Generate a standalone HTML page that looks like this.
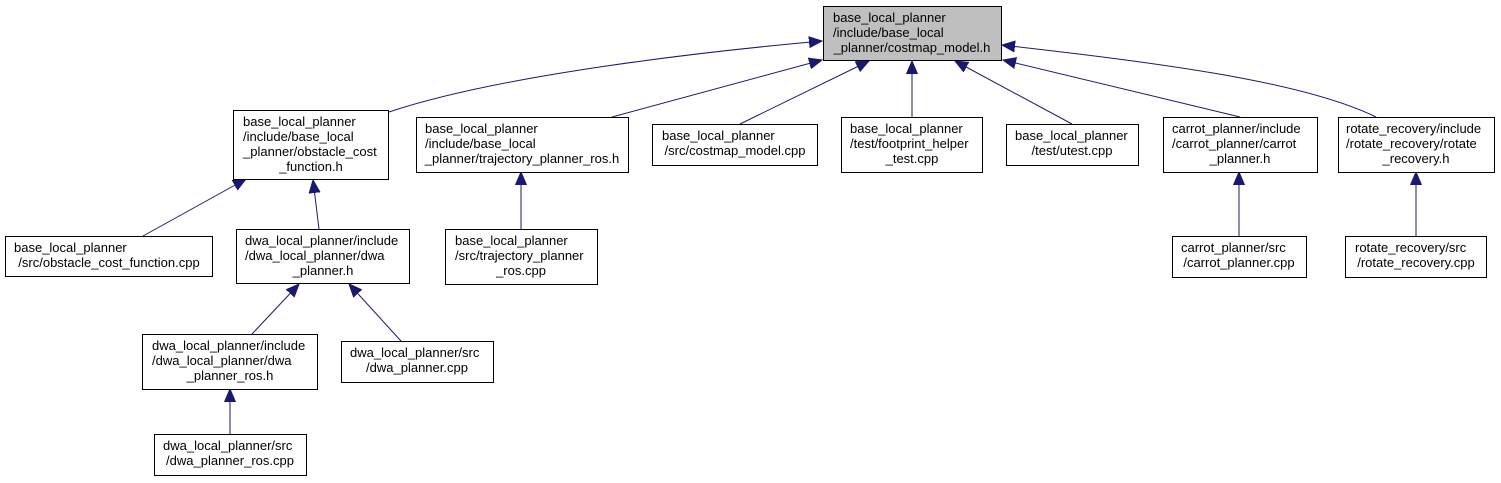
<!DOCTYPE html>
<html><head><meta charset="utf-8"><style>
html,body{margin:0;padding:0;background:#fff;}
svg{display:block;}
text{font-family:"Liberation Sans",sans-serif;font-size:13px;fill:#000;}
</style></head><body>
<svg width="1501" height="483" viewBox="0 0 1501 483" xmlns="http://www.w3.org/2000/svg">
<defs><marker id="a" markerWidth="14" markerHeight="12" refX="13" refY="6" orient="auto" markerUnits="userSpaceOnUse"><path d="M0,0.5 L13,6 L0,11.5 Z" fill="#191970" stroke="#191970"/></marker></defs>
<g stroke="#191970" stroke-width="1" fill="none" marker-end="url(#a)">
<path d="M389,112 C500,75 700,52 822,41"/>
<path d="M612,117 L822,60"/>
<path d="M740,124 L869,61"/>
<path d="M912,117 L912,61"/>
<path d="M1072,124 L955,61"/>
<path d="M1240,117 L1003,60"/>
<path d="M1376,117 C1300,80 1150,62 1002,45"/>
<path d="M143,236 L246,179"/>
<path d="M319,229 L313,180"/>
<path d="M521,229 L521,172"/>
<path d="M1239,236 L1239,172"/>
<path d="M1416,236 L1416,172"/>
<path d="M252,334 L299,284"/>
<path d="M401,341 L349,284"/>
<path d="M230,434 L230,389"/>
</g>
<g stroke="#000" stroke-width="1">
<rect x="823.5" y="6.5" width="178" height="54" fill="#bfbfbf"/>
<rect x="233.5" y="110.5" width="155" height="69" fill="#fff"/>
<rect x="416.5" y="117.5" width="212" height="55" fill="#fff"/>
<rect x="652.5" y="124.5" width="165" height="41" fill="#fff"/>
<rect x="841.5" y="117.5" width="141" height="55" fill="#fff"/>
<rect x="1006.5" y="124.5" width="132" height="41" fill="#fff"/>
<rect x="1163.5" y="117.5" width="154" height="55" fill="#fff"/>
<rect x="1338.5" y="117.5" width="156" height="55" fill="#fff"/>
<rect x="5.5" y="236.5" width="207" height="40" fill="#fff"/>
<rect x="236.5" y="229.5" width="173" height="54" fill="#fff"/>
<rect x="445.5" y="229.5" width="152" height="55" fill="#fff"/>
<rect x="1172.5" y="236.5" width="134" height="41" fill="#fff"/>
<rect x="1345.5" y="236.5" width="141" height="41" fill="#fff"/>
<rect x="142.5" y="334.5" width="175" height="55" fill="#fff"/>
<rect x="341.5" y="341.5" width="152" height="41" fill="#fff"/>
<rect x="154.5" y="434.5" width="152" height="41" fill="#fff"/>
</g>
<text x="833" y="22">base_local_planner</text>
<text x="833" y="37">/include/base_local</text>
<text x="912" y="52" text-anchor="middle">_planner/costmap_model.h</text>

<text x="243" y="126">base_local_planner</text>
<text x="243" y="141">/include/base_local</text>
<text x="243" y="156">_planner/obstacle_cost</text>
<text x="311" y="171" text-anchor="middle">_function.h</text>

<text x="425" y="133">base_local_planner</text>
<text x="425" y="148">/include/base_local</text>
<text x="522" y="163" text-anchor="middle">_planner/trajectory_planner_ros.h</text>

<text x="662" y="140">base_local_planner</text>
<text x="735" y="155" text-anchor="middle">/src/costmap_model.cpp</text>

<text x="850" y="133">base_local_planner</text>
<text x="850" y="148">/test/footprint_helper</text>
<text x="912" y="163" text-anchor="middle">_test.cpp</text>

<text x="1015" y="140">base_local_planner</text>
<text x="1072" y="155" text-anchor="middle">/test/utest.cpp</text>

<text x="1172" y="133">carrot_planner/include</text>
<text x="1172" y="148">/carrot_planner/carrot</text>
<text x="1240" y="163" text-anchor="middle">_planner.h</text>

<text x="1346" y="133">rotate_recovery/include</text>
<text x="1346" y="148">/rotate_recovery/rotate</text>
<text x="1416" y="163" text-anchor="middle">_recovery.h</text>

<text x="14" y="252">base_local_planner</text>
<text x="109" y="267" text-anchor="middle">/src/obstacle_cost_function.cpp</text>

<text x="245" y="245">dwa_local_planner/include</text>
<text x="245" y="260">/dwa_local_planner/dwa</text>
<text x="323" y="275" text-anchor="middle">_planner.h</text>

<text x="455" y="245">base_local_planner</text>
<text x="455" y="260">/src/trajectory_planner</text>
<text x="521" y="275" text-anchor="middle">_ros.cpp</text>

<text x="1181" y="252">carrot_planner/src</text>
<text x="1239" y="267" text-anchor="middle">/carrot_planner.cpp</text>

<text x="1355" y="252">rotate_recovery/src</text>
<text x="1416" y="267" text-anchor="middle">/rotate_recovery.cpp</text>

<text x="152" y="350">dwa_local_planner/include</text>
<text x="152" y="365">/dwa_local_planner/dwa</text>
<text x="230" y="380" text-anchor="middle">_planner_ros.h</text>

<text x="350" y="357">dwa_local_planner/src</text>
<text x="417" y="372" text-anchor="middle">/dwa_planner.cpp</text>

<text x="163" y="450">dwa_local_planner/src</text>
<text x="230" y="465" text-anchor="middle">/dwa_planner_ros.cpp</text>
</svg>
</body></html>
